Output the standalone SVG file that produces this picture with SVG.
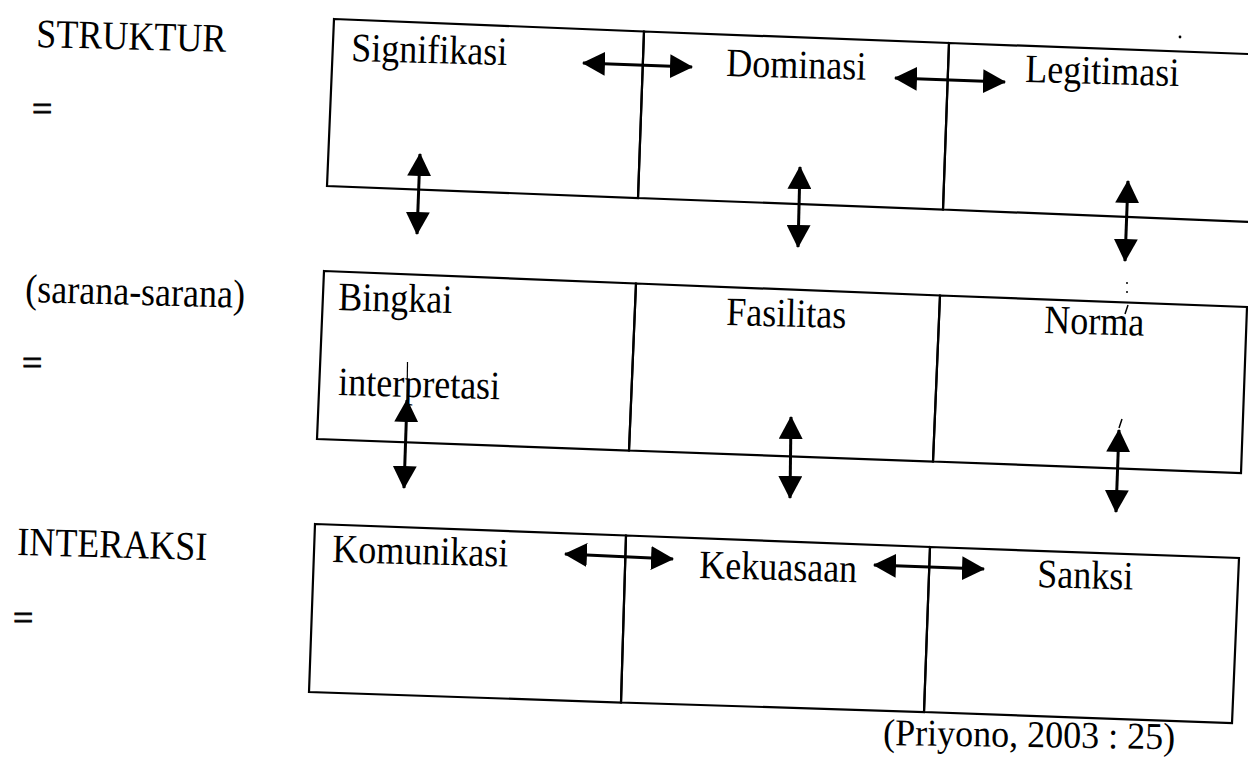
<svg xmlns="http://www.w3.org/2000/svg" width="1248" height="760" viewBox="0 0 1248 760">
<style>
.cell{fill:none;stroke:#000;stroke-width:2.2;stroke-linejoin:miter}
.arr{fill:none;stroke:#000;stroke-width:3;marker-start:url(#ah);marker-end:url(#ah)}
.t{font-family:"Liberation Serif","Times New Roman",serif;font-size:36px;fill:#000}
.eq{font-family:"Liberation Serif","Times New Roman",serif;font-size:36px;fill:#000;stroke:#000;stroke-width:0.8}
.speck{fill:#000}
</style>
<defs>
<marker id="ah" markerUnits="userSpaceOnUse" viewBox="0 -12 23 24" refX="22" refY="0" markerWidth="23" markerHeight="24" orient="auto-start-reverse">
<path d="M0,-12 L23,0 L0,12 Z" fill="#000"/>
</marker>
</defs>
<rect width="1248" height="760" fill="#fff"/>

<g id="labels">
<text class="t" transform="translate(36 47) rotate(1.5) scale(1 1.12)">STRUKTUR</text>
<text class="eq" x="32" y="121">=</text>
<text class="t" transform="translate(25 302) rotate(1.5) scale(1 1.12)">(sarana-sarana)</text>
<text class="eq" x="22" y="375">=</text>
<text class="t" transform="translate(17 555) rotate(1.5) scale(1 1.12)">INTERAKSI</text>
<text class="eq" x="13" y="630">=</text>
</g>

<g id="signifikasi">
<polygon class="cell" points="334,19 644,31.5 638,198 327,186"/>
<text class="t" transform="translate(351 61) rotate(1.5) scale(1 1.12)">Signifikasi</text>
</g>
<g id="dominasi">
<polygon class="cell" points="644,31.5 949,43 943,209.5 638,198"/>
<text class="t" transform="translate(726 76) rotate(1.5) scale(1 1.12)">Dominasi</text>
</g>
<g id="legitimasi">
<polygon class="cell" points="949,43 1262,54.5 1262,222.5 943,209.5"/>
<text class="t" transform="translate(1025 82) rotate(1.5) scale(1 1.12)">Legitimasi</text>
</g>

<g id="bingkai-interpretasi">
<polygon class="cell" points="324,271 636,283.5 629,450.5 317,439"/>
<text class="t" transform="translate(338 310) rotate(1.5) scale(1 1.12)">Bingkai</text>
<text class="t" transform="translate(338 395) rotate(1.5) scale(1 1.12)">interpretasi</text>
</g>
<g id="fasilitas">
<polygon class="cell" points="636,283.5 940,295.5 933,461.5 629,450.5"/>
<text class="t" transform="translate(726 325) rotate(1.5) scale(1 1.12)">Fasilitas</text>
</g>
<g id="norma">
<polygon class="cell" points="940,295.5 1247,307 1241,473 933,461.5"/>
<text class="t" transform="translate(1044 333) rotate(1.5) scale(1 1.12)">Norma</text>
</g>

<g id="komunikasi">
<polygon class="cell" points="315,524 626,535.5 621,702.5 309,692"/>
<text class="t" transform="translate(332 562) rotate(1.5) scale(1 1.12)">Komunikasi</text>
</g>
<g id="kekuasaan">
<polygon class="cell" points="626,535.5 930,547 924,712 621,702.5"/>
<text class="t" transform="translate(699 578) rotate(1.5) scale(1 1.12)">Kekuasaan</text>
</g>
<g id="sanksi">
<polygon class="cell" points="930,547 1239,558 1232,723 924,712"/>
<text class="t" transform="translate(1037 587) rotate(1.5) scale(1 1.12)">Sanksi</text>
</g>

<g id="source">
<text class="t" transform="translate(883 745) rotate(0.8) scale(1 1.05)">(Priyono, 2003 : 25)</text>
</g>

<g id="connectors">
<line class="arr" x1="583" y1="63" x2="692" y2="67"/>
<line class="arr" x1="895" y1="78" x2="1005" y2="82"/>
<line class="arr" x1="565" y1="554" x2="673" y2="559"/>
<line class="arr" x1="874" y1="565" x2="984" y2="569"/>
<line class="arr" x1="420" y1="154" x2="417" y2="234"/>
<line class="arr" x1="800" y1="167" x2="798" y2="247"/>
<line class="arr" x1="1128" y1="181" x2="1125" y2="261"/>
<line class="arr" x1="407" y1="400" x2="404" y2="488"/>
<line class="arr" x1="791" y1="417" x2="790" y2="498"/>
<line class="arr" x1="1119" y1="430" x2="1116" y2="512"/>
<line x1="407.5" y1="362" x2="407" y2="400" stroke="#000" stroke-width="1.2"/>
</g>

<g id="specks">
<circle class="speck" cx="1180" cy="37" r="1.4"/>
<circle class="speck" cx="1127" cy="283" r="1"/>
<circle class="speck" cx="1127" cy="292" r="1"/>
<path d="M1128,305 L1125,314" stroke="#000" stroke-width="1.5"/>
<path d="M1122,419 L1119,428" stroke="#000" stroke-width="1.5"/>
</g>
</svg>
